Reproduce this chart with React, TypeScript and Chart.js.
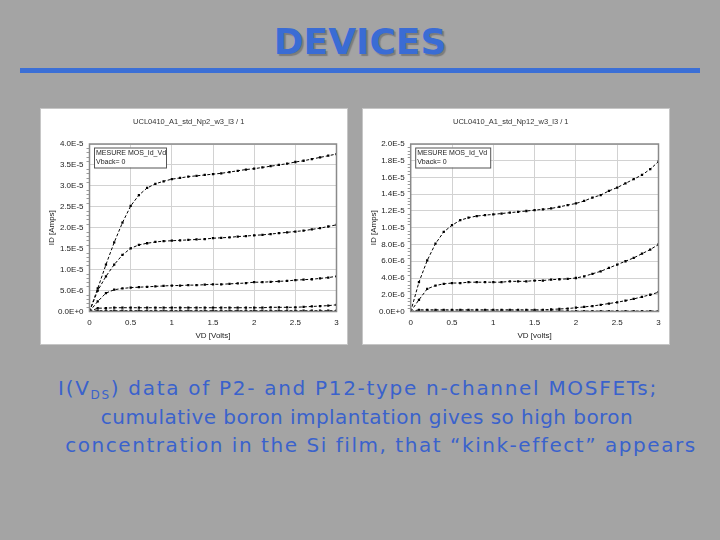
import React, { useEffect, useRef } from "react";
import { Chart, registerables } from "chart.js";
Chart.register(...registerables);

// Drain voltage samples (V)
const vd = [0, 0.1, 0.2, 0.3, 0.4, 0.5, 0.6, 0.7, 0.8, 0.9, 1.0, 1.1, 1.2, 1.3, 1.4, 1.5, 1.6, 1.7, 1.8, 1.9, 2.0, 2.1, 2.2, 2.3, 2.4, 2.5, 2.6, 2.7, 2.8, 2.9, 3.0];

// Left chart (Np2) drain currents, in microamps
const p2Curve1 = [0, 5.5, 11.2, 16.5, 21.2, 25.2, 27.8, 29.5, 30.5, 31.1, 31.6, 31.9, 32.2, 32.4, 32.6, 32.8, 33.0, 33.3, 33.6, 33.9, 34.1, 34.4, 34.7, 35.0, 35.3, 35.7, 36.0, 36.4, 36.8, 37.2, 37.6];
const p2Curve2 = [0, 5.0, 8.4, 11.2, 13.5, 15.1, 15.9, 16.3, 16.6, 16.8, 16.9, 17.0, 17.1, 17.2, 17.3, 17.5, 17.6, 17.7, 17.9, 18.0, 18.2, 18.3, 18.5, 18.7, 18.9, 19.1, 19.3, 19.6, 19.9, 20.3, 20.7];
const p2Curve3 = [0, 2.4, 4.4, 5.2, 5.5, 5.7, 5.8, 5.9, 6.0, 6.1, 6.2, 6.2, 6.3, 6.3, 6.4, 6.5, 6.5, 6.6, 6.7, 6.8, 7.0, 7.0, 7.1, 7.2, 7.3, 7.5, 7.6, 7.7, 7.9, 8.1, 8.4];
const p2Curve4 = [0, 0.8, 0.8, 0.9, 0.9, 0.9, 0.9, 0.9, 0.9, 0.9, 0.9, 0.9, 0.9, 0.9, 0.9, 0.9, 0.9, 0.9, 0.9, 0.9, 0.9, 0.9, 1.0, 1.0, 1.0, 1.0, 1.1, 1.2, 1.3, 1.4, 1.6];
const p2Curve5 = [0, 0.2, 0.2, 0.2, 0.2, 0.2, 0.2, 0.2, 0.2, 0.2, 0.2, 0.2, 0.2, 0.2, 0.2, 0.2, 0.2, 0.2, 0.2, 0.2, 0.2, 0.2, 0.2, 0.2, 0.2, 0.2, 0.2, 0.2, 0.2, 0.2, 0.2];

// Right chart (Np12) drain currents, in microamps
const p12Curve1 = [0, 3.5, 6.1, 8.1, 9.5, 10.3, 10.9, 11.2, 11.4, 11.5, 11.6, 11.7, 11.8, 11.9, 12.0, 12.1, 12.2, 12.3, 12.5, 12.7, 12.9, 13.2, 13.6, 13.9, 14.4, 14.8, 15.3, 15.8, 16.3, 17.0, 17.9];
const p12Curve2 = [0, 1.4, 2.7, 3.1, 3.3, 3.4, 3.4, 3.5, 3.5, 3.5, 3.5, 3.5, 3.6, 3.6, 3.6, 3.7, 3.7, 3.8, 3.85, 3.9, 4.0, 4.2, 4.5, 4.8, 5.2, 5.6, 6.0, 6.4, 6.9, 7.4, 8.0];
const p12Curve3 = [0, 0.2, 0.2, 0.2, 0.2, 0.2, 0.2, 0.2, 0.2, 0.2, 0.2, 0.2, 0.2, 0.2, 0.2, 0.2, 0.2, 0.25, 0.3, 0.35, 0.45, 0.55, 0.65, 0.8, 0.95, 1.1, 1.3, 1.5, 1.75, 2.0, 2.3];
const p12Curve4 = [0, 0.05, 0.05, 0.05, 0.05, 0.05, 0.05, 0.05, 0.05, 0.05, 0.05, 0.05, 0.05, 0.05, 0.05, 0.05, 0.05, 0.05, 0.05, 0.05, 0.05, 0.05, 0.05, 0.05, 0.05, 0.05, 0.05, 0.05, 0.05, 0.05, 0.05];

const xTickValues = [0, 0.5, 1, 1.5, 2, 2.5, 3];

const FONT = "'Liberation Sans', Arial, sans-serif";

const framePlugin = {
  id: "frame",
  afterDraw(chart: any) {
    const { ctx, chartArea } = chart;
    const ys = chart.scales.y;
    ctx.save();
    // minor ticks on the Y axis
    const ticks = ys.ticks.map((t: any) => t.value);
    ctx.strokeStyle = "#9a9a9a";
    ctx.lineWidth = 1;
    for (let i = 0; i < ticks.length - 1; i++) {
      for (let k = 1; k < 5; k++) {
        const v = ticks[i] + ((ticks[i + 1] - ticks[i]) * k) / 5;
        const py = Math.round(ys.getPixelForValue(v)) + 0.5;
        ctx.beginPath();
        ctx.moveTo(chartArea.left - 3, py);
        ctx.lineTo(chartArea.left, py);
        ctx.stroke();
      }
    }
    ctx.strokeStyle = "#8a8a8a";
    ctx.lineWidth = 1.5;
    ctx.strokeRect(chartArea.left, chartArea.top, chartArea.right - chartArea.left, chartArea.bottom - chartArea.top);
    // measurement box
    const opts = chart.options.plugins.measureBox;
    const bx = chartArea.left + 4.5;
    const by = chartArea.top + 3.5;
    ctx.fillStyle = "#ffffff";
    ctx.fillRect(bx, by, opts.width, 20);
    ctx.strokeStyle = "#555555";
    ctx.lineWidth = 1;
    ctx.strokeRect(bx + 0.5, by + 0.5, opts.width, 20);
    ctx.fillStyle = "#222222";
    ctx.font = `7px ${FONT}`;
    ctx.textBaseline = "middle";
    ctx.textAlign = "left";
    ctx.fillText(opts.line1, bx + 2, by + 5.5);
    ctx.fillText(opts.line2, bx + 2, by + 15);
    ctx.restore();
  },
};

type IVProps = {
  title: string;
  xTitle: string;
  yTitle: string;
  yMax: number;
  yStep: number;
  curves: number[][];
  yWidth: number;
  legend1: string;
  legend2: string;
  boxWidth: number;
};

function IVChart(p: IVProps) {
  const ref = useRef<HTMLCanvasElement>(null);
  useEffect(() => {
    const tickFont = { family: FONT, size: 8 };
    const chart = new Chart(ref.current!, {
      type: "line",
      data: {
        datasets: p.curves.map((c) => ({
          data: vd.map((x, i) => ({ x, y: c[i] * 1e-6 })),
          borderColor: "#000000",
          borderWidth: 1,
          borderDash: [3, 2],
          pointStyle: "rect",
          pointRadius: 1.6,
          pointBackgroundColor: "#000000",
          pointBorderWidth: 0,
          tension: 0,
          fill: false,
        })),
      },
      options: {
        responsive: false,
        animation: false,
        layout: { padding: { left: 0, right: 10.5, top: 0, bottom: 0 } },
        plugins: {
          legend: { display: false },
          tooltip: { enabled: false },
          title: {
            display: true,
            text: p.title,
            color: "#333333",
            font: { family: FONT, size: 7.5, weight: "normal" },
            padding: { top: 8, bottom: 18 },
          },
          measureBox: { width: p.boxWidth, line1: p.legend1, line2: p.legend2 },
        } as any,
        scales: {
          x: {
            type: "linear",
            min: 0,
            max: 3,
            afterBuildTicks: (s: any) => {
              s.ticks = xTickValues.map((v) => ({ value: v }));
            },
            ticks: { font: tickFont, color: "#222222", padding: 6, callback: (v: any) => String(v) },
            grid: { color: "#d2d2d2", drawTicks: false },
            border: { display: false },
            title: { display: true, text: p.xTitle, color: "#222222", font: tickFont, padding: { top: 0, bottom: 3 } },
            afterFit: (s: any) => {
              s.height = 32.5;
            },
          },
          y: {
            type: "linear",
            min: 0,
            max: p.yMax,
            ticks: {
              stepSize: p.yStep,
              autoSkip: false,
              font: tickFont,
              color: "#222222",
              padding: 6,
              callback: (v: any) => Number(v).toExponential(1).toUpperCase(),
            },
            grid: { color: "#d2d2d2", drawTicks: false },
            border: { display: false },
            title: { display: true, text: p.yTitle, color: "#222222", font: tickFont, padding: { top: 6, bottom: 0 } },
            afterFit: (s: any) => {
              s.width = p.yWidth;
            },
          },
        },
      },
      plugins: [framePlugin],
    } as any);
    return () => chart.destroy();
  }, []);
  return <canvas ref={ref} width={306} height={235} style={{ display: "block" }} />;
}

export default function App() {
  const panel = (left: number): React.CSSProperties => ({
    position: "absolute",
    left,
    top: 108,
    width: 306,
    height: 235,
    background: "#ffffff",
    border: "1px solid #c6c6c6",
  });
  const caption = (top: number, shift: number, spacing: number): React.CSSProperties => ({
    position: "absolute",
    left: shift,
    top,
    width: 720,
    textAlign: "center",
    fontFamily: "'DejaVu Sans', sans-serif",
    fontSize: 20,
    letterSpacing: `${spacing}px`,
    color: "#3a62cc",
    whiteSpace: "nowrap",
    lineHeight: "22px",
  });
  return (
    <div style={{ position: "absolute", left: 0, top: 0, width: 720, height: 540, background: "#a4a4a4", overflow: "hidden" }}>
      <div
        style={{
          position: "absolute",
          left: 0,
          width: 720,
          top: 20,
          textAlign: "center",
          fontFamily: "'DejaVu Sans', sans-serif",
          fontWeight: "bold",
          fontSize: 36,
          lineHeight: "44px",
          color: "#3a6cd4",
          textShadow: "2px 2px 1px #7c7c7c",
        }}
      >
        DEVICES
      </div>
      <div style={{ position: "absolute", left: 20, top: 68, width: 680, height: 5, background: "#3b6fd6" }} />
      <div style={panel(40)}>
        <IVChart
          title="UCL0410_A1_std_Np2_w3_l3 / 1"
          xTitle="VD [Volts]"
          yTitle="ID [Amps]"
          yMax={4e-5}
          yStep={5e-6}
          curves={[p2Curve1, p2Curve2, p2Curve3, p2Curve4, p2Curve5]}
          yWidth={48.5}
          legend1="MESURE MOS_Id_Vd"
          legend2="Vback= 0"
          boxWidth={72}
        />
      </div>
      <div style={panel(362)}>
        <IVChart
          title="UCL0410_A1_std_Np12_w3_l3 / 1"
          xTitle="VD [volts]"
          yTitle="ID [Amps]"
          yMax={2e-5}
          yStep={2e-6}
          curves={[p12Curve1, p12Curve2, p12Curve3, p12Curve4]}
          yWidth={47.7}
          legend1="MESURE MOS_Id_Vd"
          legend2="Vback= 0"
          boxWidth={75}
        />
      </div>
      <div style={caption(377, -2, 1.7)}>
        I(V<sub style={{ fontSize: 12, verticalAlign: "-4px", lineHeight: 0 }}>DS</sub>) data of P2- and P12-type n-channel MOSFETs;
      </div>
      <div style={caption(406, 7, 0.45)}>cumulative boron implantation gives so high boron</div>
      <div style={caption(434, 21, 1.55)}>concentration in the Si film, that “kink-effect” appears</div>
    </div>
  );
}
